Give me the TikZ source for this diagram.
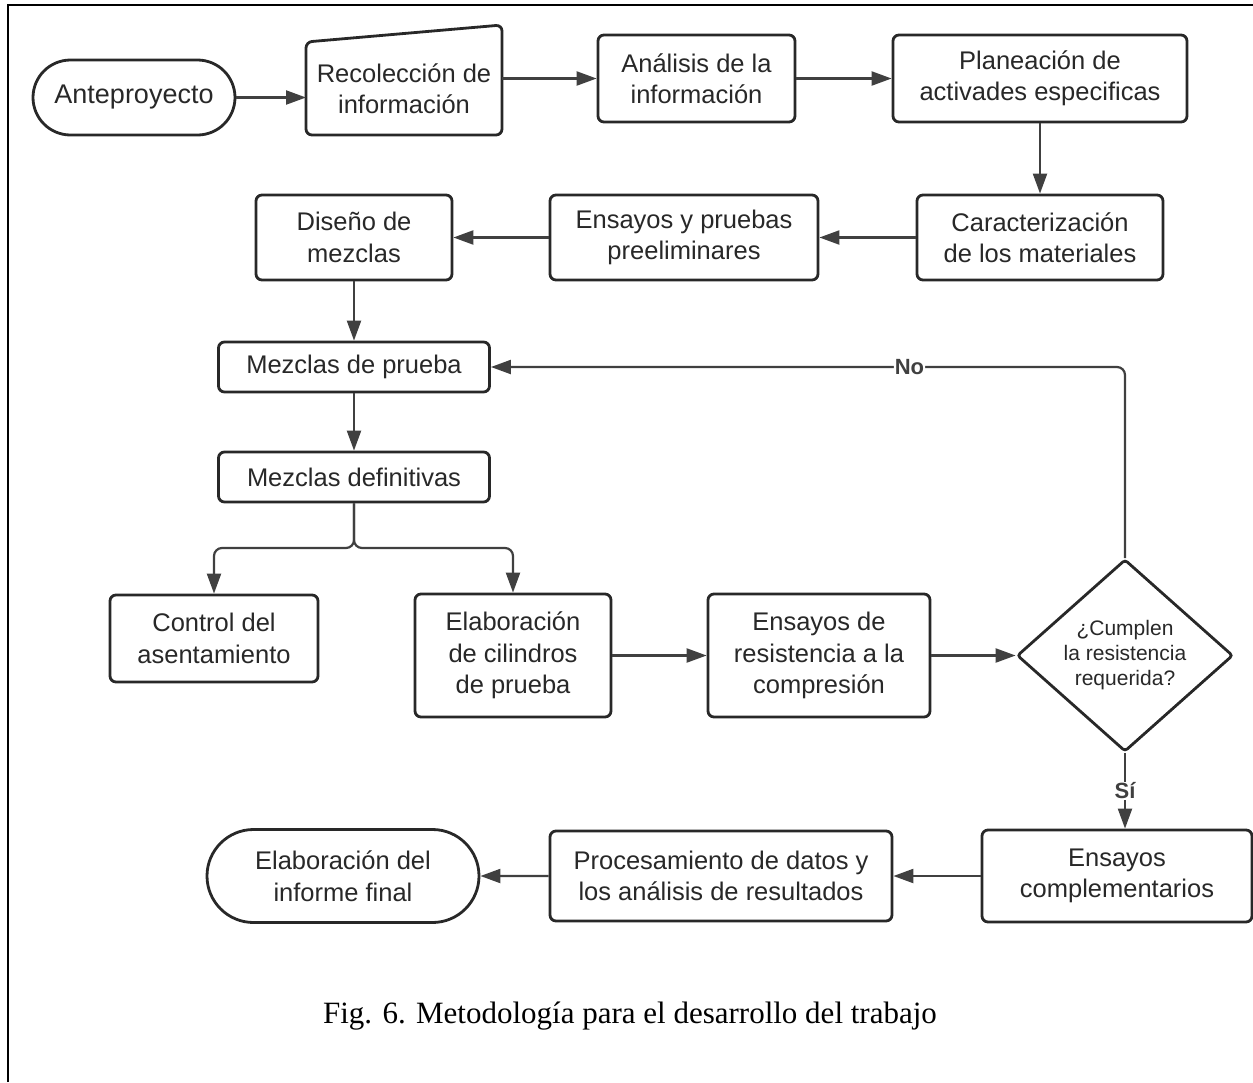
\documentclass[tikz,border=0pt]{standalone}
\usepackage{fontspec}
\setmainfont{Liberation Serif}
\setsansfont{Liberation Sans}
\usetikzlibrary{arrows.meta,positioning,shapes.geometric,shapes.misc,calc}
\definecolor{ink}{RGB}{40,40,40}
\definecolor{wire}{RGB}{64,64,64}
\tikzset{
  stage/.style={draw=ink,line width=2.8pt,rounded corners=6pt,fill=white,text=ink,align=center,inner sep=0pt,font=\sffamily\fontsize{25.5}{31.5}\selectfont},
  terminal/.style={stage,rounded corners=0pt,rounded rectangle},
  manual/.style={stage,draw=none,fill=none,outer sep=0pt},
  decision/.style={stage,diamond,rounded corners=3pt,font=\sffamily\fontsize{21}{25}\selectfont},
  arr/.style={-{Triangle[length=20pt,width=14pt]},draw=wire,line width=2.2pt},
  flow/.style={arr,rounded corners=8pt},
  answer/.style={fill=white,text=wire,inner sep=1pt,font=\sffamily\bfseries\fontsize{22}{24}\selectfont}
}

\begin{document}
\begin{tikzpicture}[x=1pt,y=-1pt]
  \useasboundingbox (0,0) rectangle (1253,1082);
  \draw[line width=2pt] (8,1082) -- (8,5) -- (1253,5);

  % first row
  \node[terminal,minimum width=202pt,minimum height=75pt,font=\sffamily\fontsize{27}{32}\selectfont] (ante) at (134,97.5) {Anteproyecto};
  \node[manual,minimum width=196pt,minimum height=93pt] (recol) at (404,88.5) {Recolección de\\información};
  \draw[draw=ink,line width=2.8pt,rounded corners=6pt]
    (recol.south west) -- (recol.north west) -- ($(recol.north east)+(0,-17)$) -- (recol.south east) -- cycle;
  \node[stage,minimum width=197pt,minimum height=87pt] (anal) at (696.5,78.5) {Análisis de la\\información};
  \node[stage,minimum width=294pt,minimum height=87pt] (plan) at (1040,78.5) {Planeación de\\activades especificas};

  % second row
  \node[stage,minimum width=246pt,minimum height=85pt] (carac) at (1040,237.5) {Caracterización\\de los materiales};
  \node[stage,minimum width=268pt,minimum height=85pt] (prelim) at (684,237.5) {Ensayos y pruebas\\preeliminares};
  \node[stage,minimum width=196pt,minimum height=85pt] (diseno) at (354,237.5) {Diseño de\\mezclas};

  \node[stage,minimum width=271pt,minimum height=50pt] (mprueba) at (354,367) {Mezclas de prueba};
  \node[stage,minimum width=271pt,minimum height=50pt] (mdef) at (354,477) {Mezclas definitivas};
  \coordinate (fork) at (354,548);

  % test row
  \node[stage,minimum width=208pt,minimum height=87pt] (asent) at (214,638.5) {Control del\\asentamiento};
  \node[stage,minimum width=196pt,minimum height=123pt] (cilin) at (513,655.5) {Elaboración\\de cilindros\\de prueba};
  \node[stage,minimum width=222pt,minimum height=123pt] (compr) at (819,655.5) {Ensayos de\\resistencia a la\\compresión};
  \node[decision,minimum width=216pt,minimum height=165pt] (cumple) at (1125,655.5) {¿Cumplen\\la resistencia\\requerida?};

  % last row
  \node[stage,minimum width=270pt,minimum height=92pt] (compl) at (1117,876) {Ensayos\\complementarios};
  \node[stage,minimum width=342pt,minimum height=90pt] (proc) at (721,876) {Procesamiento de datos y\\los análisis de resultados};
  \node[terminal,minimum width=272pt,minimum height=93pt] (informe) at (343,876) {Elaboración del\\informe final};

  \node[font=\fontsize{31}{36}\selectfont] (caption) at (630,1016) {Fig. 6. Metodología para el desarrollo del trabajo};

  \draw[arr] (ante.east) -- (ante.east -| recol.west);
  \draw[arr] (recol.east |- anal.west) -- (anal.west);
  \draw[arr] (anal) -- (plan);
  \draw[arr] (plan) -- (carac);
  \draw[arr] (carac) -- (prelim);
  \draw[arr] (prelim) -- (diseno);
  \draw[arr] (diseno) -- (mprueba);
  \draw[arr] (mprueba) -- (mdef);
  \draw[flow] (mdef.south) -- (fork) -| (asent.north);
  \draw[flow] (mdef.south) -- (fork) -| (cilin.north);
  \draw[arr] (cilin) -- (compr);
  \draw[arr] (compr) -- (cumple);
  \draw[flow] (cumple.north) |- node[answer,pos=0.67]{No} (mprueba.east);
  \draw[arr] (cumple.south) -- node[answer]{Sí} (cumple.south |- compl.north);
  \draw[arr] (compl) -- (proc);
  \draw[arr] (proc) -- (informe);
\end{tikzpicture}
\end{document}
